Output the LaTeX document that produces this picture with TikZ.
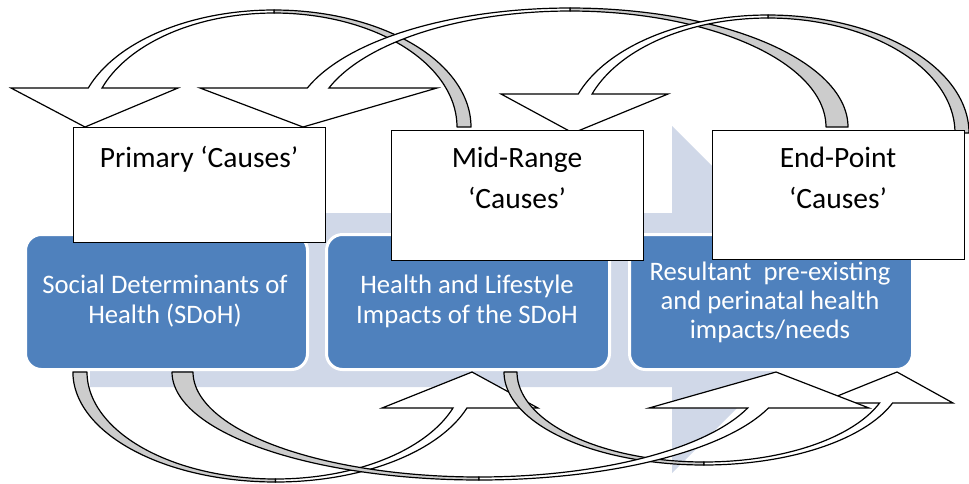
\documentclass[tikz,border=0pt]{standalone}
\usepackage{fontspec}
\setmainfont{Carlito}
\definecolor{sblue}{HTML}{4F81BD}
\definecolor{lightarr}{HTML}{D0D8E8}
\definecolor{arrowgray}{HTML}{CCCCCC}
\tikzset{
  causebox/.style={draw=black, line width=1.3pt, fill=white, inner sep=0pt, anchor=north west},
  stagebox/.style={draw=white, line width=3pt, fill=sblue, rounded corners=16pt, inner sep=0pt, anchor=north west},
  blacktxt/.style={font=\fontsize{29.5}{34}\selectfont, anchor=base, inner sep=0pt},
  whitetxt/.style={font=\fontsize{26.7}{32}\selectfont, anchor=base, text=white, inner sep=0pt},
  frontface/.style={draw=black, line width=1.2pt, fill=white, line join=miter},
  backface/.style={draw=black, line width=1.2pt, fill=arrowgray, line join=round},
}
\begin{document}
\begin{tikzpicture}[x=1pt, y=-1pt]
\useasboundingbox (0,0) rectangle (969,483);
\fill[white] (0,0) rectangle (969,483);

% large background arrow
\fill[lightarr] (90,213) -- (672,213) -- (672,126) -- (846,299.5) -- (672,473) -- (672,387) -- (90,387) -- cycle;

% stage boxes
\node[stagebox, minimum width=282pt, minimum height=135pt] (sd) at (24,233) {};
\node[stagebox, minimum width=283pt, minimum height=135pt] (hl) at (325,233) {};
\node[stagebox, minimum width=283pt, minimum height=135pt] (rp) at (628,233) {};

\node[whitetxt] (sd1) at (165,293) {Social Determinants of};
\node[whitetxt] (sd2) at (165,323) {Health (SDoH)};
\node[whitetxt] (hl1) at (467,293) {Health and Lifestyle};
\node[whitetxt] (hl2) at (467,323) {Impacts of the SDoH};
\node[whitetxt] (rp1) at (770,280) {Resultant\ \ pre-existing};
\node[whitetxt] (rp2) at (770,309) {and perinatal health};
\node[whitetxt] (rp3) at (770,338) {impacts/needs};

% ---- top curved arrows ----
% T1: from Mid-Range to Primary
\draw[backface] plot[domain=90:0, samples=60] ({274+197*cos(\x)},{127-117*sin(\x)})
  -- plot[domain=0:90, samples=60] ({274+183*cos(\x)},{127-114*sin(\x)}) -- cycle;
\draw[frontface] (11,88) -- plot[domain=160.53:90, samples=60] ({274+197*cos(\x)},{127-117*sin(\x)})
  -- plot[domain=90:160, samples=60] ({274+183*cos(\x)},{127-114*sin(\x)}) -- (178,88) -- (85,127) -- cycle;
% T2: from End-Point to Primary
\draw[backface] plot[domain=90:0, samples=60] ({570+278*cos(\x)},{127-119*sin(\x)})
  -- plot[domain=0:90, samples=60] ({570+256*cos(\x)},{127-116*sin(\x)}) -- cycle;
\draw[frontface] (200,88) -- plot[domain=160.87:90, samples=60] ({570+278*cos(\x)},{127-119*sin(\x)})
  -- plot[domain=90:160.35, samples=60] ({570+256*cos(\x)},{127-116*sin(\x)}) -- (437,88) -- (303,127) -- cycle;
% T3: from End-Point to Mid-Range
\draw[backface] plot[domain=90:0, samples=60] ({768+201*cos(\x)},{133-118*sin(\x)})
  -- plot[domain=0:90, samples=60] ({768+187*cos(\x)},{133-115*sin(\x)}) -- cycle;
\draw[frontface] (501,94) -- plot[domain=160.7:90, samples=60] ({768+201*cos(\x)},{133-118*sin(\x)})
  -- plot[domain=90:160.18, samples=60] ({768+187*cos(\x)},{133-115*sin(\x)}) -- (668,94) -- (573,133) -- cycle;

% ---- bottom curved arrows ----
% B1: from SDoH to Health and Lifestyle
\draw[backface] plot[domain=180:90, samples=60] ({275.5+202.6*cos(\x)},{372+110*sin(\x)})
  -- plot[domain=90:180, samples=60] ({275.5+188.5*cos(\x)},{372+107*sin(\x)}) -- cycle;
\draw[frontface] (382,408) -- plot[domain=19.66:90, samples=60] ({275.5+188.5*cos(\x)},{372+107*sin(\x)})
  -- plot[domain=90:19.1, samples=60] ({275.5+202.6*cos(\x)},{372+110*sin(\x)}) -- (538,408) -- (472,372) -- cycle;
% B3: from Health and Lifestyle to Resultant
\draw[backface] plot[domain=180:90, samples=60] ({704+200*cos(\x)},{372+93*sin(\x)})
  -- plot[domain=90:180, samples=60] ({704+187*cos(\x)},{372+90*sin(\x)}) -- cycle;
\draw[frontface] (820,403) -- plot[domain=20.15:90, samples=60] ({704+187*cos(\x)},{372+90*sin(\x)})
  -- plot[domain=90:19.47, samples=60] ({704+200*cos(\x)},{372+93*sin(\x)}) -- (953,403) -- (897,372) -- cycle;
% B2: from SDoH to Resultant
\draw[backface] plot[domain=180:90, samples=60] ({479+307*cos(\x)},{372+108*sin(\x)})
  -- plot[domain=90:180, samples=60] ({479+286*cos(\x)},{372+105*sin(\x)}) -- cycle;
\draw[frontface] (649,408) -- plot[domain=20.05:90, samples=60] ({479+286*cos(\x)},{372+105*sin(\x)})
  -- plot[domain=90:19.47, samples=60] ({479+307*cos(\x)},{372+108*sin(\x)}) -- (869,408) -- (776,372) -- cycle;

% cause boxes
\node[causebox, minimum width=252pt, minimum height=115pt] (pc) at (73,127) {};
\node[causebox, minimum width=252pt, minimum height=130pt] (mc) at (391,130) {};
\node[causebox, minimum width=252pt, minimum height=129pt] (ec) at (712,130) {};

\node[blacktxt] (pct) at (199,167) {Primary ‘Causes’};
\node[blacktxt] (mct1) at (517,167) {Mid-Range};
\node[blacktxt] (mct2) at (517,208) {‘Causes’};
\node[blacktxt] (ect1) at (838,167) {End-Point};
\node[blacktxt] (ect2) at (838,208) {‘Causes’};
\end{tikzpicture}
\end{document}
